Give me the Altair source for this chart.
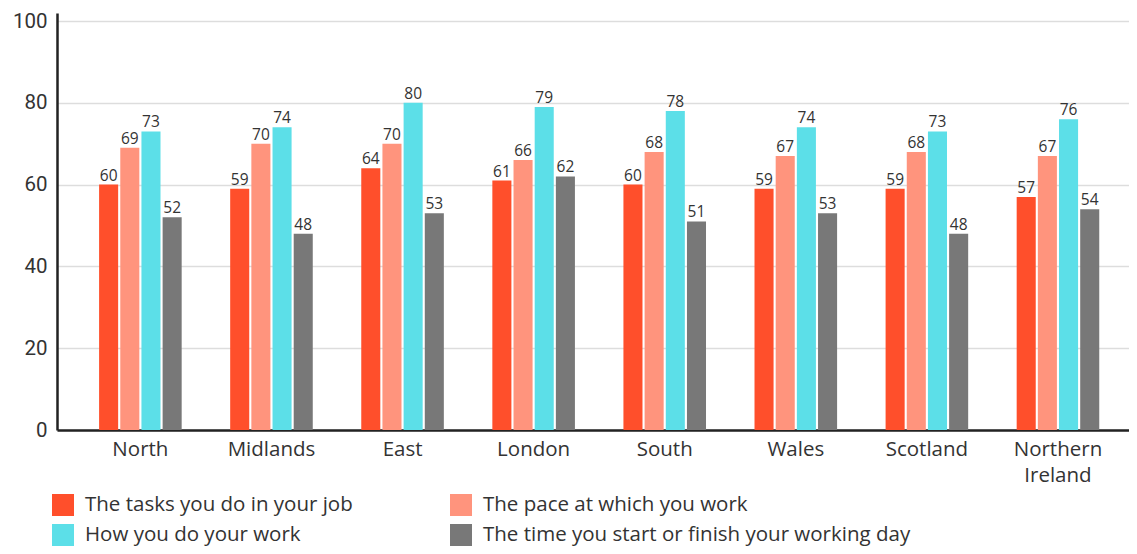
import altair as alt
import pandas as pd

regions = ["North", "Midlands", "East", "London", "South", "Wales", "Scotland", "Northern Ireland"]
series = [
    "The tasks you do in your job",
    "The pace at which you work",
    "How you do your work",
    "The time you start or finish your working day",
]
tasks = [60, 59, 64, 61, 60, 59, 59, 57]
pace = [69, 70, 70, 66, 68, 67, 68, 67]
how = [73, 74, 80, 79, 78, 74, 73, 76]
time_ = [52, 48, 53, 62, 51, 53, 48, 54]
colors = ["#FF4F2B", "#FF947D", "#5CDFE8", "#787878"]

# legend is filled column by column: list entries in that order
legend_order = [series[0], series[2], series[1], series[3]]
legend_colors = [colors[0], colors[2], colors[1], colors[3]]

rows = []
for s, vals in zip(series, [tasks, pace, how, time_]):
    for r, v in zip(regions, vals):
        rows.append({"region": r, "series": s, "value": v})
df = pd.DataFrame(rows)

FONT = "Open Sans"
TXT = "#333333"

x = alt.X(
    "region:N",
    sort=regions,
    title=None,
    scale=alt.Scale(paddingInner=0.37, paddingOuter=0.274, align=0.586),
    axis=alt.Axis(
        labelAngle=0,
        labelFontSize=20.5,
        labelFont=FONT,
        labelColor=TXT,
        labelPadding=9,
        labelLineHeight=26,
        ticks=False,
        domainColor="#222222",
        domainWidth=2.5,
        labelExpr="datum.value == 'Northern Ireland' ? ['Northern', 'Ireland'] : datum.value",
    ),
)
xo = alt.XOffset("series:N", sort=series, scale=alt.Scale(paddingInner=0.1))
y = alt.Y(
    "value:Q",
    title=None,
    scale=alt.Scale(domain=[0, 101.96], nice=False, zero=True),
    axis=alt.Axis(
        values=[0, 20, 40, 60, 80, 100],
        labelFontSize=20.5,
        labelFont="Roboto",
        labelColor=TXT,
        labelPadding=10,
        ticks=False,
        domainColor="#222222",
        domainWidth=2.5,
        gridColor="#DDDDDD",
        gridWidth=1.5,
    ),
)

bars = alt.Chart(df).mark_bar().encode(
    x=x,
    xOffset=xo,
    y=y,
    color=alt.Color(
        "series:N",
        scale=alt.Scale(domain=legend_order, range=legend_colors),
        legend=alt.Legend(
            title=None,
            orient="none",
            legendX=-5,
            legendY=481,
            columns=2,
            columnPadding=97,
            rowPadding=8,
            symbolType="square",
            symbolSize=484,
            symbolStrokeWidth=0,
            symbolOpacity=1,
            labelFontSize=20.5,
            labelFont=FONT,
            labelColor=TXT,
            labelOffset=11,
            labelLimit=600,
        ),
    ),
)

labels = alt.Chart(df).mark_text(
    dy=-4, fontSize=15.5, font=FONT, color=TXT, baseline="alphabetic"
).encode(
    x=alt.X("region:N", sort=regions),
    xOffset=xo,
    y="value:Q",
    text=alt.Text("value:Q", format="d"),
)

chart = (
    alt.layer(bars, labels)
    .properties(
        width=1072,
        height=417,
        padding={"left": 49, "top": 5, "right": 0, "bottom": 116},
        autosize=alt.AutoSizeParams(type="none"),
    )
    .configure_view(stroke=None)
)

chart.save("out.html", embed_options={"renderer": "svg", "actions": False})
